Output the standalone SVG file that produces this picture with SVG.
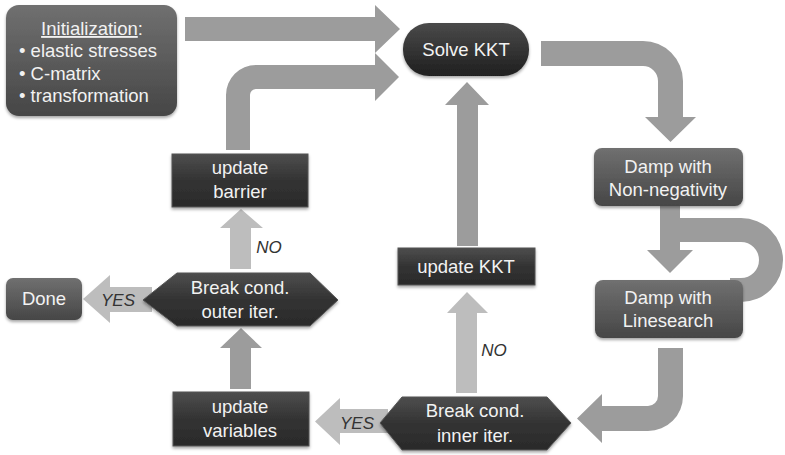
<svg xmlns="http://www.w3.org/2000/svg" width="785" height="455" viewBox="0 0 785 455">
<defs>
<linearGradient id="gMid" x1="0" y1="0" x2="0" y2="1"><stop offset="0" stop-color="#707070"/><stop offset="1" stop-color="#464646"/></linearGradient>
<linearGradient id="gDark" x1="0" y1="0" x2="0" y2="1"><stop offset="0" stop-color="#4a4a4a"/><stop offset="1" stop-color="#1f1f1f"/></linearGradient>
<linearGradient id="gBox" x1="0" y1="0" x2="0" y2="1"><stop offset="0" stop-color="#4e4e4e"/><stop offset="0.5" stop-color="#333333"/><stop offset="1" stop-color="#2a2a2a"/></linearGradient>
<filter id="sh" x="-10%" y="-10%" width="120%" height="130%"><feDropShadow dx="0" dy="2" stdDeviation="1.5" flood-color="#000" flood-opacity="0.35"/></filter>
</defs>
<style>
.t{font-family:"Liberation Sans",Arial,sans-serif;font-size:18.5px;fill:#f2f2f2;text-anchor:middle}
.ti{font-family:"Liberation Sans",Arial,sans-serif;font-size:18.5px;fill:#f2f2f2}
.lbl{font-family:"Liberation Sans",Arial,sans-serif;font-size:17px;font-style:italic;fill:#333;text-anchor:middle}
.am{fill:#9c9c9c}
.al{fill:#bdbdbd}
.mid{fill:url(#gMid);filter:url(#sh)}
.dark{fill:url(#gDark);filter:url(#sh)}
.box{fill:url(#gBox);stroke:#555;stroke-width:1;filter:url(#sh)}
</style>
<g id="connectors">
<path class="am" d="M185,17 L375,17 L375,5 L400,29 L375,53 L375,41 L185,41 Z"/>
<path class="am" d="M226,150 L226,95 A30,30 0 0 1 256,65 L375,65 L375,53 L399,77 L375,101 L375,89 L256,89 A6,6 0 0 0 250,95 L250,150 Z"/>
<path class="am" d="M541,41 L643,41 A40,40 0 0 1 683,81 L683,117 L696,117 L670.5,142 L645,117 L658,117 L658,81 A15,15 0 0 0 643,66 L541,66 Z"/>
<path class="am" d="M680,218 L741,218 A42,42 0 0 1 741,302 L730,302 L730,278 L741,278 A18,18 0 0 0 741,242 L680,242 Z"/>
<path class="am" d="M660,206 L680,206 L680,250 L693,250 L670,273 L647,250 L660,250 Z"/>
<path class="am" d="M658,348 L683,348 L683,396 A35,35 0 0 1 648,431 L602,431 L602,443 L577,418.5 L602,394 L602,406 L648,406 A10,10 0 0 0 658,396 Z"/>
<path class="am" d="M457,246 L457,105 L445,105 L467,82 L489,105 L478,105 L478,246 Z"/>
<path class="al" d="M456,393 L456,313 L447,313 L467,292 L488,313 L477,313 L477,393 Z"/>
<path class="am" d="M230,389 L230,348 L220,348 L241,328 L262,348 L251,348 L251,389 Z"/>
<path class="al" d="M230,269 L230,228 L220,228 L241,209 L263,228 L251,228 L251,269 Z"/>
<path class="al" d="M388,409 L340,409 L340,398 L315,421.5 L340,445 L340,433 L388,433 Z"/>
<path class="al" d="M152,287 L110,287 L110,275 L83,299 L110,323 L110,312 L152,312 Z"/>
<text class="lbl" x="357" y="429">YES</text>
<text class="lbl" x="118" y="306">YES</text>
<text class="lbl" x="269" y="253">NO</text>
<text class="lbl" x="494" y="356">NO</text>
</g>
<g id="init">
<rect class="mid" x="6" y="5" width="171" height="111" rx="13"/>
<text class="ti" x="92" y="35" text-anchor="middle"><tspan text-decoration="underline">Initialization</tspan>:</text>
<text class="ti" x="19" y="57">• elastic stresses</text>
<text class="ti" x="19" y="80">• C-matrix</text>
<text class="ti" x="19" y="102">• transformation</text>
</g>
<g id="solve">
<rect class="dark" x="403" y="23" width="126" height="53" rx="26"/>
<text class="t" x="466" y="56">Solve KKT</text>
</g>
<g id="dampnn">
<rect class="mid" x="594" y="148" width="149" height="58" rx="8"/>
<text class="t" x="668" y="173">Damp with</text>
<text class="t" x="668" y="196">Non-negativity</text>
</g>
<g id="dampls">
<rect class="mid" x="595" y="280" width="148" height="58" rx="8"/>
<text class="t" x="668" y="304">Damp with</text>
<text class="t" x="668" y="327">Linesearch</text>
</g>
<g id="updkkt">
<rect class="box" x="398" y="248" width="137" height="37"/>
<text class="t" x="466" y="273">update KKT</text>
</g>
<g id="innerbreak">
<polygon class="box" points="380,423 402,397 547,397 571,423 547,450 402,450"/>
<text class="t" x="475" y="417">Break cond.</text>
<text class="t" x="475" y="442">inner iter.</text>
</g>
<g id="updvar">
<rect class="box" x="173" y="392" width="136" height="54"/>
<text class="t" x="240" y="413">update</text>
<text class="t" x="240" y="437">variables</text>
</g>
<g id="outerbreak">
<polygon class="box" points="143,300 177,273 310,273 338,300 310,326 177,326"/>
<text class="t" x="240" y="294">Break cond.</text>
<text class="t" x="240" y="318">outer iter.</text>
</g>
<g id="updbarrier">
<rect class="box" x="172" y="154" width="136" height="53"/>
<text class="t" x="240" y="174">update</text>
<text class="t" x="240" y="198">barrier</text>
</g>
<g id="done">
<rect class="mid" x="6" y="278" width="76" height="42" rx="7"/>
<text class="t" x="44" y="305">Done</text>
</g>
</svg>
